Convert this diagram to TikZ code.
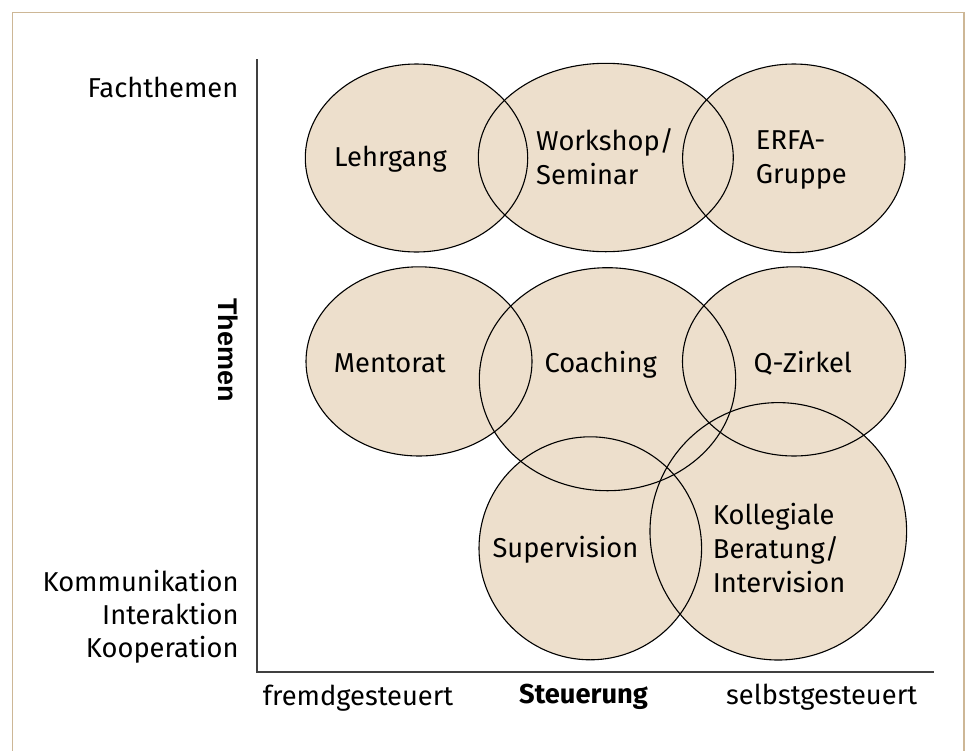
\documentclass[tikz,border=0pt]{standalone}
\usepackage{fontspec}
\setmainfont{Fira Sans}
\newfontfamily\axisfont{Liberation Sans}
\usetikzlibrary{shapes.geometric}
\definecolor{bubblefill}{RGB}{237,223,204}
\definecolor{frameline}{RGB}{205,183,150}
\definecolor{axisline}{RGB}{64,64,64}
\begin{document}
\begin{tikzpicture}[x=1pt,y=-1pt,
  bubble/.style={fill=bubblefill},
  ring/.style={ellipse, draw=black, line width=1.1pt, inner sep=0pt, outer sep=0pt},
  lbl/.style={font=\fontsize{27.3}{34}\selectfont, inner sep=0pt, align=left},
  axislbl/.style={font=\fontsize{27.3}{33.3}\selectfont, inner sep=0pt, align=right},
  axis/.style={draw=axisline, line width=1.5pt}]
\useasboundingbox (0,0) rectangle (966,750);
\draw[frameline, line width=1.2pt] (12.7,760) -- (12.7,12.3) -- (964,12.3) -- (964,760);

% fills first, outlines on top
\foreach \cx/\cy/\rx/\ry in {416.5/158/111.2/94, 605.8/157.5/127.5/94.2, 793.8/158.3/111.2/94.3,
  419/361.4/113/94.6, 607.5/379.2/128.2/111.5, 794/361.4/111.5/94.6,
  590.3/548.3/111.3/111.5, 778.3/531.3/128.3/128.7}
  \fill[bubble] (\cx,\cy) ellipse [x radius=\rx, y radius=\ry];

\node[ring, minimum width=222.4pt, minimum height=188pt] (lehr) at (416.5,158) {};
\node[ring, minimum width=255pt, minimum height=188.4pt] (work) at (605.8,157.5) {};
\node[ring, minimum width=222.4pt, minimum height=188.6pt] (erfa) at (793.8,158.3) {};
\node[ring, minimum width=226pt, minimum height=189.2pt] (ment) at (419,361.4) {};
\node[ring, minimum width=256.4pt, minimum height=223pt] (coach) at (607.5,379.2) {};
\node[ring, minimum width=223pt, minimum height=189.2pt] (qz) at (794,361.4) {};
\node[ring, minimum width=222.6pt, minimum height=223pt] (sup) at (590.3,548.3) {};
\node[ring, minimum width=256.6pt, minimum height=257.4pt] (koll) at (778.3,531.3) {};

% labels: the base anchor of a multi-line node sits on its last line
\node[lbl, anchor=base west] (tlehr) at (334,166.7) {Lehrgang};
\node[lbl, anchor=base west] (twork) at (536,184) {Workshop/\\Seminar};
\node[lbl, anchor=base west] (terfa) at (755.7,183.5) {ERFA-\\Gruppe};
\node[lbl, anchor=base west] (tment) at (333.7,372.6) {Mentorat};
\node[lbl, anchor=base west] (tcoach) at (544.3,372.3) {Coaching};
\node[lbl, anchor=base west] (tqz) at (753.5,372.5) {Q-Zirkel};
\node[lbl, anchor=base west] (tsup) at (492.3,557.7) {Supervision};
\node[lbl, anchor=base west] (tkoll) at (712.7,592.7) {Kollegiale\\Beratung/\\Intervision};

% axes
\coordinate (origin) at (257,672);
\coordinate (ytop) at (257,59);
\coordinate (xend) at (934,672);
\draw[axis] (ytop) -- (origin) -- (xend);

\node[axislbl, anchor=base east] (yhigh) at (238.5,97) {Fachthemen};
\node[axislbl, anchor=base east] (ylow) at (238.7,657.7) {Kommunikation\\Interaktion\\Kooperation};
\node[axislbl, anchor=base west] (xlow) at (262.7,705) {fremdgesteuert};
\node[axislbl, anchor=base west, font=\fontsize{27.3}{33}\selectfont\bfseries] (xname) at (519,703.5) {Steuerung};
\node[axislbl, anchor=base west] (xhigh) at (726,704) {selbstgesteuert};
\node[inner sep=0pt, rotate=-90, font=\axisfont\fontsize{27}{30}\selectfont\bfseries] (yname) at (228,350) {Themen};
\end{tikzpicture}
\end{document}
